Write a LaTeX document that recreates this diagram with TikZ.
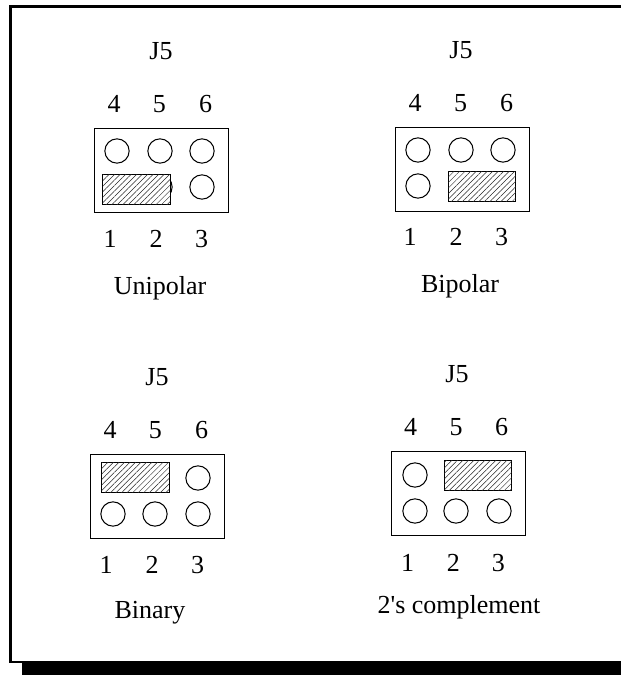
\documentclass[tikz,border=0pt]{standalone}
\usepackage{fontspec}
\newfontfamily\lblfont{Liberation Serif}
\usetikzlibrary{patterns.meta}
\tikzset{
 lbl/.style={inner sep=0pt,anchor=base,font=\lblfont\fontsize{26}{28}\selectfont},
 board/.style={draw,line width=1pt,minimum width=134pt,minimum height=84pt,inner sep=0pt},
 pin/.style={circle,draw,line width=1.05pt,minimum size=24.3pt,inner sep=0pt},
 jumper/.style={draw,line width=1pt,minimum width=67.5pt,minimum height=30pt,inner sep=0pt,fill=white,
   postaction={pattern={Lines[angle=45,distance=3.9pt,line width=0.5pt]},pattern color=black!85}}
}
\begin{document}
\begin{tikzpicture}[x=1pt,y=-1pt]
\useasboundingbox (0,0) rectangle (621,675);
\fill[black] (22,661) rectangle (621,675);
\fill[black] (9,5) rectangle (621,8);
\fill[black] (9,5) rectangle (12,662);
\fill[black] (9,661) rectangle (22,663);
% Unipolar
\node[board] (b1) at (161,170) {};
\foreach \n/\x/\y in {a/117/151,b/160/151,c/202/151,d/160/187,e/202/187}{\node[pin] (u\n) at (\x,\y) {};}
\node[jumper] (j1) at (136.7,189) {};
\node[lbl] (t1) at (161,59.3) {J5};
\foreach \n/\x/\y in {4/114/112.7,5/159.3/112.7,6/205.7/112.7,1/110/247.3,2/156/247.3,3/201.7/247.3}{\node[lbl] (ul\n) at (\x,\y) {\n};}
\node[lbl] (c1) at (160,294) {Unipolar};
% Bipolar
\node[board] (b2) at (462,169) {};
\foreach \n/\x/\y in {a/418/150,b/461/150,c/503/150,d/418/186}{\node[pin] (v\n) at (\x,\y) {};}
\node[jumper] (j2) at (482.2,186.4) {};
\node[lbl] (t2) at (461,58) {J5};
\foreach \n/\x/\y in {4/415/111,5/460.5/111,6/506.5/111,1/410/245.5,2/456/245.5,3/501.7/245.5}{\node[lbl] (vl\n) at (\x,\y) {\n};}
\node[lbl] (c2) at (460,292) {Bipolar};
% Binary
\node[board] (b3) at (157,496) {};
\foreach \n/\x/\y in {a/198/478,b/113/514,c/155/514,d/198/514}{\node[pin] (w\n) at (\x,\y) {};}
\node[jumper] (j3) at (135.3,477.5) {};
\node[lbl] (t3) at (157,385) {J5};
\foreach \n/\x/\y in {4/110/438,5/155.3/438,6/201.7/438,1/106/573,2/152/573,3/197.7/573}{\node[lbl] (wl\n) at (\x,\y) {\n};}
\node[lbl] (c3) at (150,618) {Binary};
% 2's complement
\node[board] (b4) at (458,493) {};
\foreach \n/\x/\y in {a/415/475,b/415/511,c/456/511,d/499/511}{\node[pin] (z\n) at (\x,\y) {};}
\node[jumper] (j4) at (478,475) {};
\node[lbl] (t4) at (457,382) {J5};
\foreach \n/\x/\y in {4/410.5/435,5/456/435,6/501.5/435,1/407.7/571,2/453.3/571,3/498.3/571}{\node[lbl] (zl\n) at (\x,\y) {\n};}
\node[lbl] (c4) at (459,613.3) {2's complement};
\end{tikzpicture}
\end{document}
